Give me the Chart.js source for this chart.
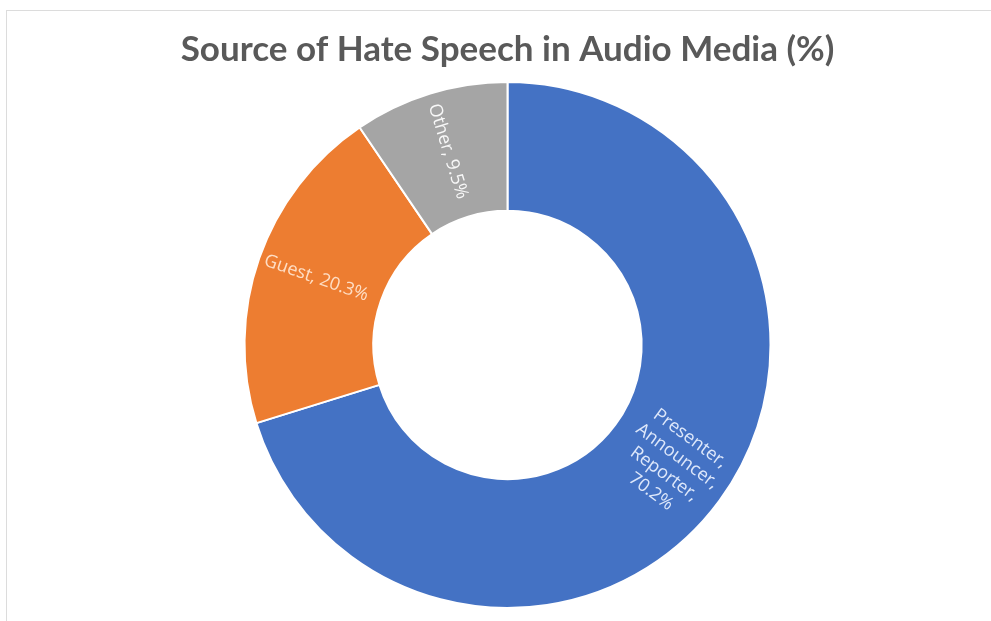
<!DOCTYPE html>
<html>
<head>
<meta charset="utf-8">
<script src="https://cdn.jsdelivr.net/npm/chart.js@4"></script>
<style>
    html, body { margin: 0; padding: 0; background: #fff; }
    #wrap { position: relative; width: 991px; height: 621px; }
    #frame {
        position: absolute; left: 6px; top: 10px; right: 0; bottom: 0;
        border-top: 1px solid #dcdcdc; border-left: 1px solid #dcdcdc;
        pointer-events: none;
    }
</style>
</head>
<body>
<div id="wrap">
    <canvas id="chart" width="991" height="621"></canvas>
    <div id="frame"></div>
</div>
<script>
    // --- Data ---
    const categories = ['Presenter, Announcer, Reporter', 'Guest', 'Other'];
    const shares = [70.2, 20.3, 9.5];
    const sliceColors = ['#4472C4', '#ED7D31', '#A5A5A5'];

    // Label lines drawn inside each slice
    const labelLines = [
        ['Presenter,', 'Announcer,', 'Reporter,', '70.2%'],
        ['Guest, 20.3%'],
        ['Other, 9.5%']
    ];
    const labelColors = ['rgba(235,242,255,0.92)', 'rgba(255,228,205,0.95)', 'rgba(255,255,255,0.92)'];

    // --- Rotated labels placed at the middle of each ring segment ---
    const ringLabels = {
        id: 'ringLabels',
        afterDatasetsDraw(chart) {
            const ctx = chart.ctx;
            const meta = chart.getDatasetMeta(0);
            ctx.save();
            ctx.font = '18px "Open Sans", sans-serif';
            ctx.textAlign = 'center';
            ctx.textBaseline = 'middle';
            meta.data.forEach((arc, i) => {
                const p = arc.getProps(['x', 'y', 'startAngle', 'endAngle', 'innerRadius', 'outerRadius'], true);
                const mid = (p.startAngle + p.endAngle) / 2;
                const r = (p.innerRadius + p.outerRadius) / 2 + 4;
                const x = p.x + Math.cos(mid) * r;
                const y = p.y + Math.sin(mid) * r;
                // keep text along the radius, flipped so it never reads upside down
                let rot = mid + Math.PI;
                while (rot > Math.PI) rot -= 2 * Math.PI;
                while (rot < -Math.PI) rot += 2 * Math.PI;
                if (rot > Math.PI / 2 || rot < -Math.PI / 2) rot += Math.PI;
                const lines = labelLines[i];
                const lh = 22;
                ctx.fillStyle = labelColors[i];
                ctx.save();
                ctx.translate(x, y);
                ctx.rotate(rot);
                lines.forEach((t, k) => {
                    ctx.fillText(t, 0, (k - (lines.length - 1) / 2) * lh);
                });
                ctx.restore();
            });
            ctx.restore();
        }
    };

    new Chart(document.getElementById('chart').getContext('2d'), {
        type: 'doughnut',
        data: {
            labels: categories,
            datasets: [{
                data: shares,
                backgroundColor: sliceColors,
                borderColor: '#ffffff',
                borderWidth: 2
            }]
        },
        options: {
            responsive: false,
            animation: false,
            cutout: '51%',
            layout: { padding: { top: 0, bottom: 12, left: 24, right: 0 } },
            plugins: {
                legend: { display: false },
                tooltip: { enabled: false },
                title: {
                    display: true,
                    text: 'Source of Hate Speech in Audio Media (%)',
                    color: '#595959',
                    font: { family: 'Lato', size: 35, weight: 'bold' },
                    padding: { top: 29, bottom: 10 }
                }
            }
        },
        plugins: [ringLabels]
    });
</script>
</body>
</html>
